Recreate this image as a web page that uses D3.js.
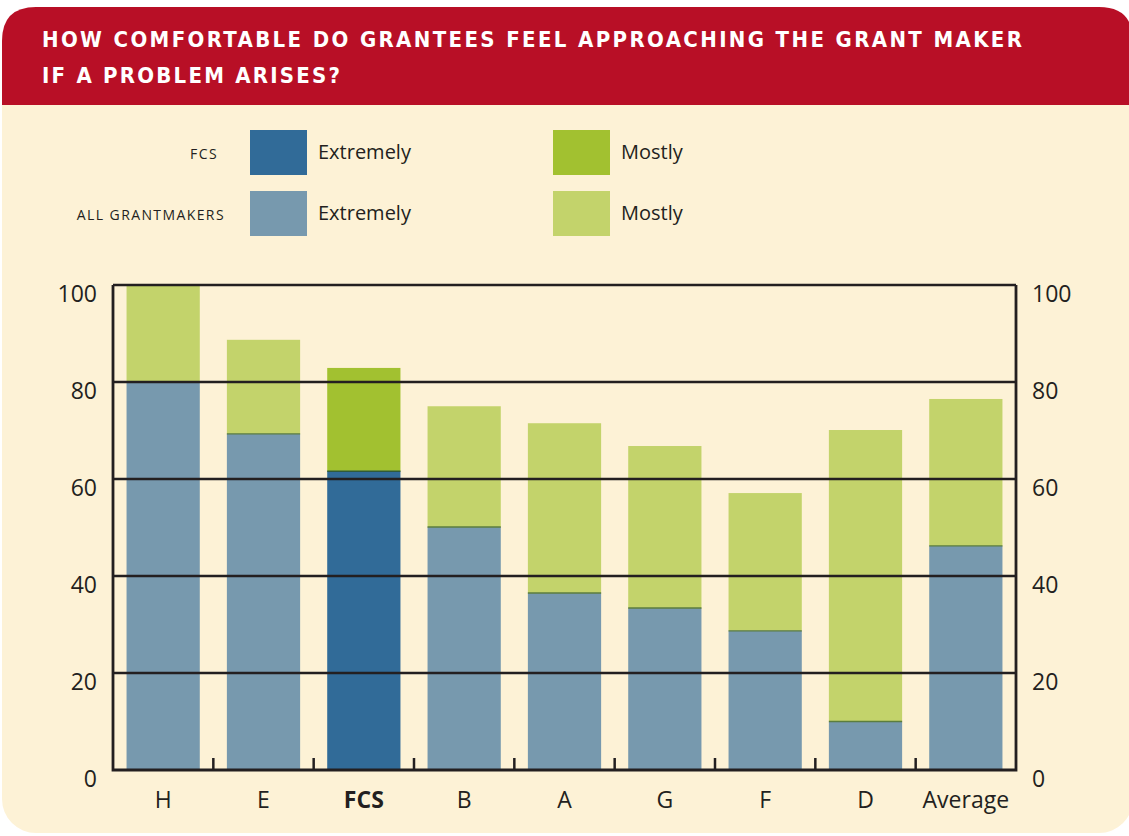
<!DOCTYPE html>
<html>
<head>
<meta charset="utf-8">
<script src="https://cdn.jsdelivr.net/npm/d3@7"></script>
<style>
  html, body { margin: 0; padding: 0; background: #ffffff; }
  svg { display: block; }
</style>
</head>
<body>
<svg id="chart" width="1129" height="836"></svg>
<script>
// ---- data ----
const categories = ["H", "E", "FCS", "B", "A", "G", "F", "D", "Average"];
const extremely = [80, 69.3, 61.6, 50.1, 36.5, 33.4, 28.7, 10.0, 46.2];
const mostly = [20, 19.4, 21.3, 24.9, 35.0, 33.4, 28.4, 60.1, 30.3];
const yTicks = [0, 20, 40, 60, 80, 100];
const highlight = "FCS";
const titleLines = ["HOW COMFORTABLE DO GRANTEES FEEL APPROACHING THE GRANT MAKER", "IF A PROBLEM ARISES?"];
const legendRows = ["FCS", "ALL GRANTMAKERS"];
const legendSeries = ["Extremely", "Mostly"];

(function () {
// ---- styles ----
const colors = {
  bg: "#fdf2d6",
  header: "#b80f26",
  fcsExt: "#316b98",
  fcsMost: "#a2c130",
  allExt: "#7799ae",
  allMost: "#c3d36b",
  ink: "#231f20"
};
const font = "'Open Sans', 'Liberation Sans', sans-serif";

const svg = d3.select("#chart");

// panel
svg.append("rect").attr("x", 2).attr("y", 7).attr("width", 1131).attr("height", 826)
  .attr("rx", 34).attr("ry", 34).attr("fill", colors.bg);
// header with rounded top corners
const hx = 2, hy = 7, hw = 1131, hh = 98, r = 34;
svg.append("path")
  .attr("d", `M${hx},${hy + hh} L${hx},${hy + r} Q${hx},${hy} ${hx + r},${hy} L${hx + hw - r},${hy} Q${hx + hw},${hy} ${hx + hw},${hy + r} L${hx + hw},${hy + hh} Z`)
  .attr("fill", colors.header);

// title
const titleLens = [980, 298];
titleLines.forEach((t, i) => {
  svg.append("text")
    .attr("x", 42).attr("y", 47 + i * 36)
    .attr("textLength", titleLens[i]).attr("lengthAdjust", "spacing")
    .attr("fill", "#ffffff")
    .style("font-family", "'DejaVu Sans Condensed', 'DejaVu Sans', sans-serif")
    .style("font-weight", "bold").style("font-size", "22px")
    .text(t);
});

// legend
const legRowY = [130, 191];
const legLabelRight = [218, 225];
const legColX = [250, 553];
const legColors = [[colors.fcsExt, colors.fcsMost], [colors.allExt, colors.allMost]];
legendRows.forEach((row, ri) => {
  svg.append("text")
    .attr("x", legLabelRight[ri]).attr("y", legRowY[ri] + 29)
    .attr("text-anchor", "end").attr("fill", colors.ink)
    .style("font-family", font).style("font-size", "14px").style("letter-spacing", "1.4px")
    .text(row);
  legendSeries.forEach((s, ci) => {
    svg.append("rect").attr("x", legColX[ci]).attr("y", legRowY[ri])
      .attr("width", 57).attr("height", 45).attr("fill", legColors[ri][ci]);
    svg.append("text")
      .attr("x", legColX[ci] + 68).attr("y", legRowY[ri] + 29)
      .attr("fill", colors.ink)
      .style("font-family", font).style("font-size", "20px")
      .text(s);
  });
});

// scales
const pLeft = 113, pRight = 1016, pTop = 285, pBottom = 770;
const x = d3.scaleBand().domain(categories).range([pLeft, pRight]).paddingInner(0.27).paddingOuter(0.135);
const y = d3.scaleLinear().domain([0, 100]).range([pBottom, pTop]);

const data = categories.map((c, i) => ({ c, e: extremely[i], m: mostly[i] }));

const g = svg.append("g");
// mostly segments
g.selectAll("rect.most").data(data).join("rect").attr("class", "most")
  .attr("x", d => x(d.c)).attr("width", x.bandwidth())
  .attr("y", d => y(d.e + d.m)).attr("height", d => y(d.e) - y(d.e + d.m))
  .attr("fill", d => d.c === highlight ? colors.fcsMost : colors.allMost);
// extremely segments
g.selectAll("rect.ext").data(data).join("rect").attr("class", "ext")
  .attr("x", d => x(d.c)).attr("width", x.bandwidth())
  .attr("y", d => y(d.e)).attr("height", d => y(0) - y(d.e))
  .attr("fill", d => d.c === highlight ? colors.fcsExt : colors.allExt);
// thin boundary line between segments
g.selectAll("line.seg").data(data.filter(d => d.m > 0 && d.e + d.m < 100)).join("line").attr("class", "seg")
  .attr("x1", d => x(d.c)).attr("x2", d => x(d.c) + x.bandwidth())
  .attr("y1", d => y(d.e)).attr("y2", d => y(d.e))
  .attr("stroke", d => d.c === highlight ? "#2f5a3c" : "#5b7d3e").attr("stroke-width", 1.3);

// gridlines
g.selectAll("line.grid").data(yTicks.filter(v => v > 0)).join("line").attr("class", "grid")
  .attr("x1", pLeft).attr("x2", pRight)
  .attr("y1", d => y(d)).attr("y2", d => y(d))
  .attr("stroke", colors.ink).attr("stroke-width", 2.5);

// frame: left, right, bottom
g.append("path")
  .attr("d", `M${pLeft},${pTop} L${pLeft},${pBottom} L${pRight},${pBottom} L${pRight},${pTop}`)
  .attr("fill", "none").attr("stroke", colors.ink).attr("stroke-width", 2.8);

// bottom ticks between bands
const step = x.step();
const tickXs = categories.slice(1).map(c => x(c) - step * x.paddingInner() / 2);
g.selectAll("line.xt").data(tickXs).join("line").attr("class", "xt")
  .attr("x1", d => d).attr("x2", d => d)
  .attr("y1", pBottom).attr("y2", pBottom - 12)
  .attr("stroke", colors.ink).attr("stroke-width", 2.5);

// y axes labels (left and right)
const yAxisL = d3.axisLeft(y).tickValues(yTicks).tickSize(0).tickPadding(16);
const yAxisR = d3.axisRight(y).tickValues(yTicks).tickSize(0).tickPadding(16);
const gl = svg.append("g").attr("transform", `translate(${pLeft},0)`).call(yAxisL);
const gr = svg.append("g").attr("transform", `translate(${pRight},0)`).call(yAxisR);
[gl, gr].forEach(a => {
  a.select(".domain").remove();
  a.selectAll("text")
    .attr("dy", "16.5px")
    .attr("fill", colors.ink)
    .style("font-family", font).style("font-size", "23px");
});

// x axis labels
const xAxis = d3.axisBottom(x).tickSize(0).tickPadding(22);
const gx = svg.append("g").attr("transform", `translate(0,${pBottom})`).call(xAxis);
gx.select(".domain").remove();
gx.selectAll("text")
  .attr("fill", colors.ink)
  .style("font-family", font).style("font-size", "23px")
  .style("font-weight", d => d === highlight ? "bold" : "normal");
})();
</script>
</body>
</html>
